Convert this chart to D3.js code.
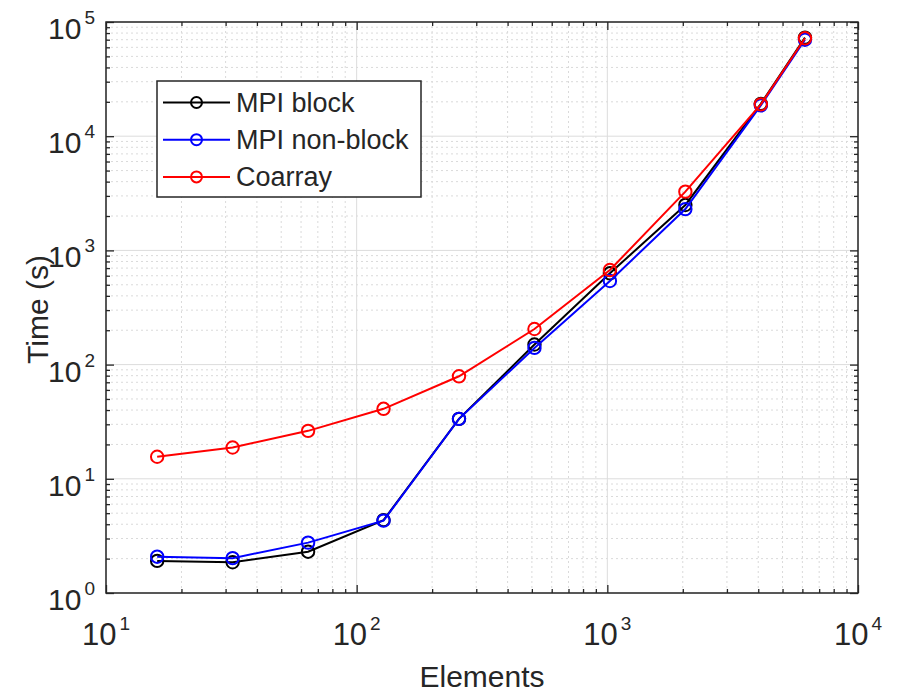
<!DOCTYPE html>
<html>
<head>
<meta charset="utf-8">
<script src="https://cdn.jsdelivr.net/npm/d3@7"></script>
<style>
  body { margin: 0; background: #fff; }
  text { font-family: "Liberation Sans", Arial, sans-serif; fill: #262626; }
</style>
</head>
<body>
<div id="chart"></div>
<script>
// data
const elements = [16, 32, 64, 128, 256, 512, 1024, 2048, 4096, 6144];
const mpiBlock = [1.91, 1.86, 2.3, 4.35, 33.5, 150, 630, 2500, 19200, 73000];
const mpiNonBlock = [2.08, 2.02, 2.76, 4.3, 33.5, 140, 540, 2300, 18600, 70000];
const coarray = [15.6, 18.8, 26.3, 41, 79, 205, 673, 3270, 19000, 72000];

const seriesNames = ["MPI block", "MPI non-block", "Coarray"];
const seriesColors = ["#000000", "#0000ff", "#ff0000"];
const xTickExps = [1, 2, 3, 4];
const yTickExps = [0, 1, 2, 3, 4, 5];

const width = 897, height = 692;
const margin = { top: 22, right: 39, bottom: 99, left: 106 };

const svg = d3.select("#chart").append("svg")
    .attr("width", width)
    .attr("height", height);

const x = d3.scaleLog().domain([10, 1e4]).range([margin.left, width - margin.right]);
const y = d3.scaleLog().domain([1, 1e5]).range([height - margin.bottom, margin.top]);

const x0 = x.range()[0], x1 = x.range()[1];
const y0 = y.range()[0], y1 = y.range()[1];

// major and minor tick positions
function minors(lo, hi) {
    const out = [];
    for (let e = lo; e < hi; e++) {
        for (let m = 2; m <= 9; m++) out.push(m * Math.pow(10, e));
    }
    return out;
}
const xMajor = xTickExps.map(e => Math.pow(10, e));
const yMajor = yTickExps.map(e => Math.pow(10, e));
const xMinor = minors(1, 4);
const yMinor = minors(0, 5);

// grid
const grid = svg.append("g");
grid.selectAll(".xminor").data(xMinor).enter().append("line")
    .attr("x1", d => x(d)).attr("x2", d => x(d))
    .attr("y1", y0).attr("y2", y1)
    .attr("stroke", "#dadada").attr("stroke-dasharray", "2,3");
grid.selectAll(".yminor").data(yMinor).enter().append("line")
    .attr("y1", d => y(d)).attr("y2", d => y(d))
    .attr("x1", x0).attr("x2", x1)
    .attr("stroke", "#dadada").attr("stroke-dasharray", "2,3");
grid.selectAll(".xmajor").data(xMajor).enter().append("line")
    .attr("x1", d => x(d)).attr("x2", d => x(d))
    .attr("y1", y0).attr("y2", y1)
    .attr("stroke", "#dcdcdc");
grid.selectAll(".ymajor").data(yMajor).enter().append("line")
    .attr("y1", d => y(d)).attr("y2", d => y(d))
    .attr("x1", x0).attr("x2", x1)
    .attr("stroke", "#dcdcdc");

// series
const allSeries = [mpiBlock, mpiNonBlock, coarray];
const line = d3.line()
    .x(d => x(d[0]))
    .y(d => y(d[1]));

allSeries.forEach(function (vals, i) {
    const pts = elements.map((e, j) => [e, vals[j]]);
    svg.append("path")
        .datum(pts)
        .attr("fill", "none")
        .attr("stroke", seriesColors[i])
        .attr("stroke-width", 2)
        .attr("d", line);
    svg.selectAll(".m" + i)
        .data(pts)
        .enter()
        .append("circle")
        .attr("cx", d => x(d[0]))
        .attr("cy", d => y(d[1]))
        .attr("r", 6.2)
        .attr("fill", "none")
        .attr("stroke", seriesColors[i])
        .attr("stroke-width", 2);
});

// axes box with inward ticks
function tickAxis(axis, pos, vals, size) {
    svg.append("g")
        .attr("transform", pos)
        .call(axis.tickValues(vals).tickSize(size).tickFormat(""))
        .call(g => g.select(".domain").remove())
        .selectAll("line").attr("stroke", "#262626").attr("stroke-width", 1.3);
}
tickAxis(d3.axisBottom(x), `translate(0,${y0})`, xMajor, -8);
tickAxis(d3.axisBottom(x), `translate(0,${y0})`, xMinor, -4);
tickAxis(d3.axisTop(x), `translate(0,${y1})`, xMajor, -8);
tickAxis(d3.axisTop(x), `translate(0,${y1})`, xMinor, -4);
tickAxis(d3.axisLeft(y), `translate(${x0},0)`, yMajor, -8);
tickAxis(d3.axisLeft(y), `translate(${x0},0)`, yMinor, -4);
tickAxis(d3.axisRight(y), `translate(${x1},0)`, yMajor, -8);
tickAxis(d3.axisRight(y), `translate(${x1},0)`, yMinor, -4);

svg.append("rect")
    .attr("x", x0).attr("y", y1)
    .attr("width", x1 - x0).attr("height", y0 - y1)
    .attr("fill", "none")
    .attr("stroke", "#262626")
    .attr("stroke-width", 1.5);

// tick labels as 10^n
function powLabel(sel) {
    sel.append("tspan").text("10");
    sel.append("tspan")
        .attr("dx", 3)
        .attr("dy", -15)
        .style("font-size", "19px")
        .text(d => d);
}
svg.selectAll(".xlab")
    .data(xTickExps)
    .enter()
    .append("text")
    .attr("x", d => x(Math.pow(10, d)))
    .attr("y", y0 + 52)
    .attr("text-anchor", "middle")
    .style("font-size", "31px")
    .call(powLabel);

svg.selectAll(".ylab")
    .data(yTickExps)
    .enter()
    .append("text")
    .attr("x", x0 - 11)
    .attr("y", d => y(Math.pow(10, d)) + 17)
    .attr("text-anchor", "end")
    .style("font-size", "30px")
    .call(powLabel);

// axis titles
svg.append("text")
    .attr("x", (x0 + x1) / 2)
    .attr("y", 687)
    .attr("text-anchor", "middle")
    .style("font-size", "30px")
    .text("Elements");

svg.append("text")
    .attr("transform", `translate(48,${(y0 + y1) / 2 + 2}) rotate(-90)`)
    .attr("text-anchor", "middle")
    .style("font-size", "30px")
    .text("Time (s)");

// legend
const legend = svg.append("g");
legend.append("rect")
    .attr("x", 157).attr("y", 81)
    .attr("width", 264).attr("height", 116)
    .attr("fill", "#fff")
    .attr("stroke", "#262626")
    .attr("stroke-width", 1.5);

const rows = legend.selectAll(".row")
    .data(seriesNames)
    .enter()
    .append("g")
    .attr("transform", (d, i) => `translate(0,${102.5 + i * 37.2})`);
rows.append("line")
    .attr("x1", 163).attr("x2", 230)
    .attr("stroke", (d, i) => seriesColors[i])
    .attr("stroke-width", 2);
rows.append("circle")
    .attr("cx", 196.5).attr("r", 5.5)
    .attr("fill", "none")
    .attr("stroke", (d, i) => seriesColors[i])
    .attr("stroke-width", 2);
rows.append("text")
    .attr("x", 236)
    .attr("y", 9.5)
    .style("font-size", "27px")
    .text(d => d);
</script>
</body>
</html>
